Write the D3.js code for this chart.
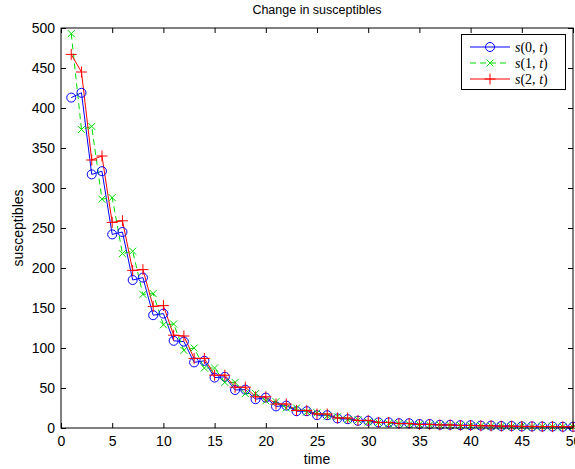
<!DOCTYPE html>
<html><head><meta charset="utf-8">
<script src="https://cdn.jsdelivr.net/npm/d3@7"></script>
<style>body{margin:0;background:#fff}svg{display:block}</style>
</head><body><svg id="c" width="575" height="469"></svg>
<script>
const times = d3.range(1, 51);
const s0 = [413,419,317,321,242,245,185,188,141,143,109,108,82,84,63,64,47.5,48,36,38,27,28,21,21,16,16,12,11,9,9,7,7,6,6,5,5,4,4,3.5,3.5,3,3,2.5,2.5,2,2,1.8,1.8,1.5,1.5];
const s1 = [493,373,377,286,288,218,221,167,168,129,130,97,100,75,75,57,57,43,43,34,33,25,25,20,19,15,14,10.5,10,7.5,7,5.5,5.5,4.5,4.5,3.8,3.8,3.2,3.2,2.7,2.7,2.3,2.3,2,2,1.7,1.7,1.5,1.5,1.3];
const s2 = [467,445,335,340,257,259,197,198,152,153,116,115,87,87,66,66,51,51,39,39,30,30,22,22,17.5,17.5,12.5,12.5,9.5,9.5,7,7,5.5,5.5,4.5,4.5,3.8,3.8,3.2,3.2,2.7,2.7,2.3,2.3,2,2,1.7,1.7,1.5,1.5];
const xTicks = d3.range(0, 51, 5);
const yTicks = d3.range(0, 501, 50);
const seriesNames = ["s(0, t)", "s(1, t)", "s(2, t)"];
const colors = ["#0000ff", "#00dd00", "#ff0000"];

const svg = d3.select("#c");
const L = 61, R = 573, T = 28, B = 428;
const x = d3.scaleLinear().domain([0, 50]).range([L, R]);
const y = d3.scaleLinear().domain([0, 500]).range([B, T]);
const font = "'Liberation Sans', Arial, Helvetica, sans-serif";

svg.append("text").attr("x", (L + R) / 2).attr("y", 14).attr("text-anchor", "middle")
  .attr("font-family", font).attr("font-size", 12.5).text("Change in susceptibles");

// axes
const tl = 5;
const ax = svg.append("g").attr("stroke", "#000").attr("stroke-width", 1);
const gx = svg.append("g").attr("transform", `translate(0,${B})`)
  .call(d3.axisBottom(x).tickValues(xTicks).tickSizeInner(-tl).tickSizeOuter(0).tickPadding(8));
const gxt = svg.append("g").attr("transform", `translate(0,${T})`)
  .call(d3.axisTop(x).tickValues(xTicks).tickSizeInner(-tl).tickSizeOuter(0).tickFormat(""));
const gy = svg.append("g").attr("transform", `translate(${L},0)`)
  .call(d3.axisLeft(y).tickValues(yTicks).tickSizeInner(-tl).tickSizeOuter(0).tickPadding(6));
const gyr = svg.append("g").attr("transform", `translate(${R},0)`)
  .call(d3.axisRight(y).tickValues(yTicks).tickSizeInner(-tl).tickSizeOuter(0).tickFormat(""));
[gx, gxt, gy, gyr].forEach(g => {
  g.select(".domain").remove();
  g.selectAll("text").attr("font-family", font).attr("font-size", 14).attr("fill", "#000");
  g.selectAll("line").attr("stroke", "#000");
});
gx.selectAll("text").attr("dy", "0.71em");

// data
const clip = svg.append("defs").append("clipPath").attr("id", "clip")
  .append("rect").attr("x", L).attr("y", T - 10).attr("width", R - L + 10).attr("height", B - T + 20);
const plot = svg.append("g");
const all = [s0, s1, s2];
const line = d3.line().x((d, i) => x(times[i])).y(d => y(d));
all.forEach((s, k) => {
  plot.append("path").datum(s).attr("d", line).attr("fill", "none")
    .attr("stroke", colors[k]).attr("stroke-width", 1)
    .attr("stroke-dasharray", k === 1 ? "6,4" : null);
});
function marker(g, k, cx, cy) {
  if (k === 0) g.append("circle").attr("cx", cx).attr("cy", cy).attr("r", 4.5).attr("fill", "none").attr("stroke", colors[0]).attr("stroke-width", 1);
  else if (k === 1) {
    const a = 3.5;
    g.append("path").attr("d", `M${cx-a},${cy-a}L${cx+a},${cy+a}M${cx-a},${cy+a}L${cx+a},${cy-a}`).attr("stroke", colors[1]).attr("stroke-width", 1);
  } else {
    const a = 5.5;
    g.append("path").attr("d", `M${cx-a},${cy}L${cx+a},${cy}M${cx},${cy-a}L${cx},${cy+a}`).attr("stroke", colors[2]).attr("stroke-width", 1);
  }
}
all.forEach((s, k) => {
  s.forEach((v, i) => marker(plot, k, x(times[i]), y(v)));
});

// box
svg.append("rect").attr("x", L).attr("y", T).attr("width", R - L).attr("height", B - T)
  .attr("fill", "none").attr("stroke", "#000").attr("stroke-width", 1);

// labels
svg.append("text").attr("x", (L + R) / 2).attr("y", 464).attr("text-anchor", "middle")
  .attr("font-family", font).attr("font-size", 14).text("time");
svg.append("text").attr("transform", `translate(23,${(T + B) / 2}) rotate(-90)`).attr("text-anchor", "middle")
  .attr("font-family", font).attr("font-size", 14).text("susceptibles");

// legend
const lg = svg.append("g");
lg.append("rect").attr("x", 461.5).attr("y", 34.5).attr("width", 104).attr("height", 55)
  .attr("fill", "#fff").attr("stroke", "#000").attr("stroke-width", 1);
seriesNames.forEach((n, k) => {
  const yy = 47 + k * 16;
  lg.append("line").attr("x1", 470).attr("x2", 510).attr("y1", yy).attr("y2", yy)
    .attr("stroke", colors[k]).attr("stroke-width", 1).attr("stroke-dasharray", k === 1 ? "6,4" : null);
  marker(lg, k, 490, yy);
  const t = lg.append("text").attr("x", 515).attr("y", yy + 5)
    .attr("font-family", "'Liberation Serif', 'DejaVu Serif', serif").attr("font-size", 14);
  t.append("tspan").attr("font-style", "italic").text("s");
  t.append("tspan").text("(" + k + ", ");
  t.append("tspan").attr("font-style", "italic").text("t");
  t.append("tspan").text(")");
});
</script></body></html>
